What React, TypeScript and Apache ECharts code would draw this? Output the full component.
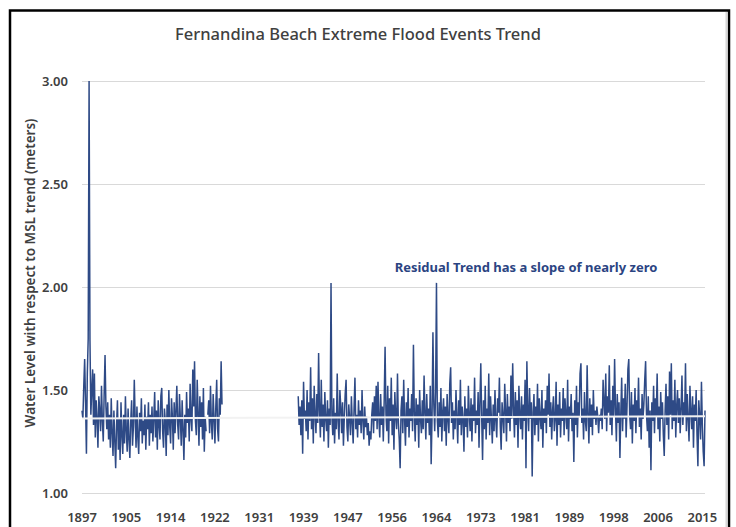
import React, { useEffect, useRef } from 'react';
import * as echarts from 'echarts';

const chartTitle = 'Fernandina Beach Extreme Flood Events Trend';
const yAxisTitle = 'Water Level with respect to MSL trend (meters)';
const annotationText = 'Residual Trend has a slope of nearly zero';

const xTickLabels = ['1897', '1905', '1914', '1922', '1931', '1939', '1947', '1956', '1964', '1973', '1981', '1989', '1998', '2006', '2015'];
const yMin = 1.0;
const yMax = 3.0;
const yStep = 0.5;

// one slot ~ two months; a tick label every 50 slots
const slotsPerLabel = 50;
const gapSlots = 85; // no record 1924 - 1938

// water level (m) relative to MSL trend
const levels1897to1910 = [
  1.40, 1.36, 1.52, 1.65, 1.44, 1.19, 1.58, 1.75, 3.00, 1.74,
  1.38, 1.50, 1.60, 1.33, 1.58, 1.27, 1.45, 1.36, 1.22, 1.47,
  1.40, 1.30, 1.52, 1.35, 1.25, 1.48, 1.67, 1.42, 1.31, 1.44,
  1.26, 1.38, 1.22, 1.46, 1.29, 1.18, 1.40, 1.25, 1.12, 1.33,
  1.45, 1.21, 1.36, 1.16, 1.44, 1.28, 1.19, 1.38, 1.24, 1.47,
  1.30, 1.20, 1.41, 1.26, 1.17, 1.35, 1.45, 1.23, 1.32, 1.55,
  1.36, 1.22, 1.42, 1.27, 1.19, 1.39, 1.30, 1.46, 1.24, 1.35,
  1.28, 1.43, 1.21, 1.37, 1.31, 1.44, 1.23, 1.38, 1.29, 1.42,
];
const levels1910to1923 = [
  1.25, 1.36, 1.49, 1.27, 1.40, 1.21, 1.45, 1.33, 1.26, 1.47,
  1.51, 1.30, 1.22, 1.41, 1.35, 1.18, 1.43, 1.28, 1.50, 1.32,
  1.24, 1.46, 1.37, 1.21, 1.44, 1.29, 1.40, 1.52, 1.33, 1.26,
  1.48, 1.36, 1.23, 1.45, 1.31, 1.16, 1.38, 1.27, 1.49, 1.34,
  1.41, 1.25, 1.53, 1.36, 1.30, 1.60, 1.42, 1.64, 1.35, 1.28,
  1.55, 1.39, 1.23, 1.47, 1.32, 1.44, 1.26, 1.51, 1.20, 1.37,
  1.30, null, 1.38, 1.45, 1.29, 1.52, 1.34, 1.26, 1.48, 1.36,
  1.24, 1.42, 1.55, 1.31, 1.25, 1.46, 1.38, 1.64, 1.43,
];
const levels1938to1957 = [
  1.47, 1.33, 1.42, 1.28, 1.45, 1.19, 1.54, 1.36, 1.40, 1.30,
  1.50, 1.26, 1.44, 1.35, 1.61, 1.31, 1.46, 1.24, 1.52, 1.38,
  1.29, 1.48, 1.34, 1.68, 1.40, 1.27, 1.55, 1.32, 1.43, 1.25,
  1.49, 1.36, 1.30, 1.45, 1.22, 1.41, 1.33, 2.02, 1.37, 1.28,
  1.46, 1.24, 1.39, 1.31, 1.58, 1.35, 1.26, 1.50, 1.42, 1.29,
  1.44, 1.23, 1.37, 1.48, 1.55, 1.32, 1.25, 1.43, 1.36, 1.28,
  1.47, 1.34, 1.24, 1.41, 1.56, 1.31, 1.38, 1.27, 1.45, 1.33,
  1.40, 1.29, 1.50, 1.35, 1.26, 1.42, 1.32, 1.37, 1.28, 1.34,
  1.23, 1.30, 1.26, 1.38, 1.44, 1.29, 1.47, 1.35, 1.52, 1.31,
  1.54, 1.36, 1.27, 1.48, 1.33, 1.42, 1.25, 1.45, 1.71, 1.38,
  1.30, 1.52, 1.24, 1.46, 1.35, 1.56, 1.28, 1.43, 1.21, 1.49,
  1.37, 1.31, 1.58, 1.34, 1.26, 1.12, 1.40, 1.47, 1.29, 1.55,
];
const levels1958to1978 = [
  1.36, 1.23, 1.44, 1.32, 1.51, 1.27, 1.41, 1.35, 1.48, 1.30,
  1.72, 1.38, 1.25, 1.46, 1.33, 1.43, 1.22, 1.50, 1.36, 1.29,
  1.45, 1.31, 1.57, 1.39, 1.26, 1.48, 1.34, 1.41, 1.28, 1.52,
  1.14, 1.37, 1.78, 1.43, 1.30, 1.49, 2.02, 1.35, 1.27, 1.44,
  1.32, 1.51, 1.25, 1.39, 1.46, 1.30, 1.42, 1.23, 1.48, 1.36,
  1.29, 1.53, 1.61, 1.34, 1.44, 1.26, 1.40, 1.31, 1.50, 1.37,
  1.24, 1.45, 1.33, 1.55, 1.28, 1.42, 1.36, 1.20, 1.47, 1.32,
  1.41, 1.27, 1.52, 1.38, 1.30, 1.46, 1.25, 1.43, 1.35, 1.56,
  1.29, 1.40, 1.33, 1.49, 1.22, 1.44, 1.63, 1.37, 1.16, 1.45,
  1.31, 1.52, 1.26, 1.41, 1.34, 1.58, 1.28, 1.47, 1.36, 1.24,
  1.43, 1.30, 1.50, 1.35, 1.27, 1.46, 1.39, 1.56, 1.32, 1.21,
  1.44, 1.37, 1.29, 1.53, 1.40, 1.25, 1.48, 1.34, 1.42, 1.30,
];
const levels1978to1998 = [
  1.57, 1.36, 1.63, 1.41, 1.27, 1.49, 1.33, 1.45, 1.22, 1.52,
  1.38, 1.31, 1.47, 1.26, 1.43, 1.35, 1.55, 1.12, 1.64, 1.40,
  1.30, 1.51, 1.36, 1.44, 1.08, 1.39, 1.48, 1.28, 1.42, 1.33,
  1.53, 1.25, 1.46, 1.37, 1.31, 1.50, 1.22, 1.41, 1.34, 1.45,
  1.29, 1.52, 1.38, 1.58, 1.32, 1.44, 1.26, 1.40, 1.47, 1.30,
  1.36, 1.54, 1.23, 1.43, 1.33, 1.49, 1.27, 1.41, 1.35, 1.51,
  1.28, 1.46, 1.38, 1.31, 1.55, 1.25, 1.42, 1.36, 1.48, 1.30,
  1.39, 1.15, 1.45, 1.33, 1.52, 1.27, 1.44, 1.37, 1.58, 1.63,
  1.34, 1.41, 1.26, 1.49, 1.35, 1.30, 1.62, 1.38, 1.24, 1.46,
  1.32, 1.43, 1.28, 1.50, 1.36, 1.40, 1.33, 1.42, 1.37, 1.29,
  1.38, 1.35, 1.41, 1.31, 1.55, 1.44, 1.36, 1.58, 1.30, 1.47,
  1.39, 1.62, 1.33, 1.45, 1.28, 1.52, 1.37, 1.65, 1.41, 1.25,
];
const levels1999to2015 = [
  1.48, 1.34, 1.44, 1.17, 1.39, 1.56, 1.30, 1.46, 1.36, 1.53,
  1.27, 1.42, 1.60, 1.65, 1.38, 1.31, 1.49, 1.24, 1.43, 1.35,
  1.51, 1.29, 1.45, 1.37, 1.56, 1.32, 1.41, 1.26, 1.48, 1.36,
  1.43, 1.55, 1.64, 1.38, 1.30, 1.47, 1.22, 1.40, 1.11, 1.44,
  1.35, 1.52, 1.29, 1.46, 1.37, 1.58, 1.31, 1.42, 1.25, 1.49,
  1.36, 1.44, 1.28, 1.18, 1.40, 1.53, 1.33, 1.47, 1.26, 1.59,
  1.38, 1.63, 1.31, 1.45, 1.35, 1.55, 1.27, 1.42, 1.50, 1.34,
  1.46, 1.29, 1.41, 1.57, 1.33, 1.44, 1.37, 1.63, 1.30, 1.48,
  1.36, 1.25, 1.52, 1.40, 1.31, 1.47, 1.22, 1.43, 1.35, 1.50,
  1.28, 1.13, 1.45, 1.37, 1.26, 1.54, 1.33, 1.20, 1.13, 1.40,
];

// residual linear trend: value at first and last slot
const trendStart = 1.362;
const trendEnd = 1.372;

export default function App() {
  const ref = useRef<HTMLDivElement>(null);
  useEffect(() => {
    document.body.style.margin = '0';
    const el = ref.current;
    if (!el) return;
    const chart = echarts.init(el, null, { renderer: 'svg' });

    const levels: (number | null)[] = [
      ...levels1897to1910,
      ...levels1910to1923,
      ...new Array(gapSlots).fill(null),
      ...levels1938to1957,
      ...levels1958to1978,
      ...levels1978to1998,
      ...levels1999to2015,
    ];
    const categories = levels.map((_, i) => String(i));
    const last = levels.length - 1;

    const font = "'Noto Sans', 'DejaVu Sans', sans-serif";

    chart.setOption({
      animation: false,
      backgroundColor: '#ffffff',
      grid: { left: 82, right: 31, top: 81, bottom: 34, containLabel: false },
      xAxis: {
        type: 'category',
        data: categories,
        boundaryGap: false,
        axisLine: { show: false },
        axisTick: { show: false },
        splitLine: { show: false },
        axisLabel: {
          interval: slotsPerLabel - 1,
          margin: 17,
          color: '#404040',
          fontSize: 13,
          fontWeight: 600,
          fontFamily: font,
          formatter: (_v: string, idx: number) =>
            idx % slotsPerLabel === 0 ? xTickLabels[idx / slotsPerLabel] ?? '' : '',
        },
      },
      yAxis: {
        type: 'value',
        min: yMin,
        max: yMax,
        interval: yStep,
        axisLine: { show: false },
        axisTick: { show: false },
        splitLine: { show: true, lineStyle: { color: '#d9d9d9', width: 1 } },
        axisLabel: {
          margin: 14,
          color: '#404040',
          fontSize: 13,
          fontWeight: 600,
          fontFamily: font,
          formatter: (v: number) => v.toFixed(2),
        },
      },
      series: [
        {
          type: 'line',
          data: levels,
          showSymbol: false,
          connectNulls: false,
          lineStyle: { color: '#2E4A86', width: 1.5 },
          z: 2,
        },
        {
          type: 'line',
          data: [[0, trendStart], [last, trendEnd]],
          showSymbol: false,
          lineStyle: { color: '#f2f2f2', width: 2 },
          z: 3,
        },
      ],
      graphic: [
        {
          type: 'rect',
          shape: { x: 10, y: 10.5, width: 719, height: 560 },
          style: { fill: 'none', stroke: '#000000', lineWidth: 2.5 },
          z: 10,
        },
        {
          type: 'line',
          shape: { x1: 726.5, y1: 12, x2: 726.5, y2: 527 },
          style: { stroke: '#d6d6d6', lineWidth: 2 },
          z: 10,
        },
        {
          type: 'text',
          x: 358,
          y: 33,
          style: {
            text: chartTitle,
            fill: '#404040',
            fontSize: 16.5,
            fontWeight: 500,
            fontFamily: font,
            textAlign: 'center',
            textVerticalAlign: 'middle',
          },
          z: 10,
        },
        {
          type: 'text',
          x: 30,
          y: 273,
          rotation: Math.PI / 2,
          style: {
            text: yAxisTitle,
            fill: '#404040',
            fontSize: 13.5,
            fontWeight: 600,
            fontFamily: font,
            textAlign: 'center',
            textVerticalAlign: 'middle',
          },
          z: 10,
        },
        {
          type: 'text',
          x: 526,
          y: 267,
          style: {
            text: annotationText,
            fill: '#2B4482',
            fontSize: 13,
            fontWeight: 'bold',
            fontFamily: font,
            textAlign: 'center',
            textVerticalAlign: 'middle',
          },
          z: 10,
        },
      ],
    });

    return () => chart.dispose();
  }, []);

  return <div ref={ref} style={{ width: 736, height: 527 }} />;
}
